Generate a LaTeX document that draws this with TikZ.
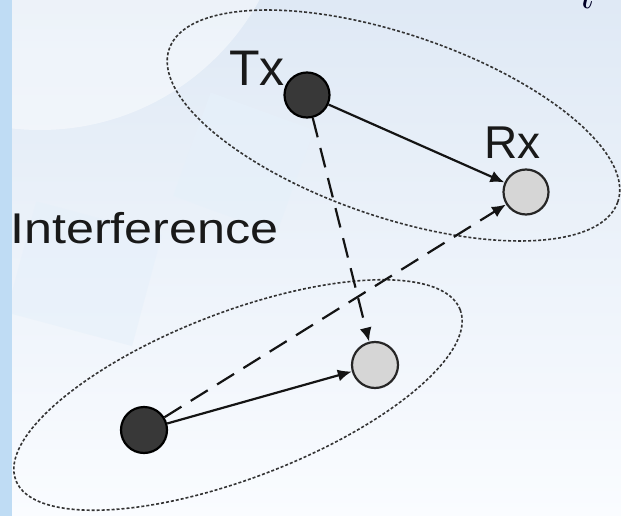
\documentclass[tikz,border=0pt]{standalone}
\usepackage{fontspec}
\setmainfont{Liberation Sans}
\usetikzlibrary{arrows.meta,shapes.geometric}

\definecolor{skytop}{HTML}{DFE9F5}
\definecolor{skybottom}{HTML}{FAFCFF}
\definecolor{stripblue}{HTML}{BFDCF4}
\definecolor{palegear}{HTML}{E6F0FA}

\begin{document}
\begin{tikzpicture}[x=1pt,y=-1pt,
  txnode/.style={circle,draw=black,line width=2.2pt,fill=black!78,minimum size=45pt,inner sep=0pt},
  rxnode/.style={circle,draw=black!85,line width=2.2pt,fill=black!16,minimum size=44pt,inner sep=0pt},
  link/.style={line width=2.2pt,draw=black!92,-{Latex[length=14pt,width=12pt]}},
  interf/.style={link,dash pattern=on 20pt off 11pt},
  zone/.style={ellipse,draw=black!80,line width=1.6pt,dash pattern=on 3pt off 2pt,inner sep=0pt},
  lbl/.style={inner sep=0pt,text=black!90,anchor=base west}]

\useasboundingbox (0,0) rectangle (621,516);
\clip (0,0) rectangle (621,516);

% background with faint watermark
\shade[top color=skytop,bottom color=skybottom] (0,0) rectangle (621,516);
\fill[white,opacity=0.45] (40,-120) circle [radius=250];
\fill[palegear,opacity=0.7,rotate around={-20:(250,160)}] (190,110) rectangle (300,220);
\fill[palegear,opacity=0.6,rotate around={-15:(80,270)}] (20,215) rectangle (150,330);
\fill[stripblue] (0,0) rectangle (12,516);

% subscripted symbol running off the top edge
\node[anchor=base west,inner sep=0pt,text=black!85!blue,font=\Huge,scale=2.25] (idx) at (556,-5) {$r_l$};

% coverage zones
\node[zone,minimum width=474pt,minimum height=183pt,rotate=-18.8] (cellA) at (393.5,125.5) {};
\node[zone,minimum width=476pt,minimum height=166pt,rotate=21] (cellB) at (238,395) {};

% terminals
\node[txnode] (txA) at (307,95) {};
\node[rxnode,minimum width=43pt,minimum height=45pt] (rxA) at (526,192) {};
\node[rxnode,minimum size=46pt] (rxB) at (375,365) {};
\node[txnode,minimum size=46pt] (txB) at (144,430) {};

% labels
\node[lbl,font=\fontsize{50}{50}\selectfont] (txlabel) at (229,86) {Tx};
\node[lbl,font=\fontsize{46}{46}\selectfont] (rxlabel) at (484,158) {Rx};
\node[lbl,font=\fontsize{43}{43}\selectfont,xscale=1.17] (iflabel) at (10,243) {Interference};

% links
\draw[link] (txA) -- (rxA);
\draw[link] (txB) -- (rxB);
\draw[interf] (txA) -- (rxB);
\draw[interf] (txB) -- (rxA);
\end{tikzpicture}
\end{document}
